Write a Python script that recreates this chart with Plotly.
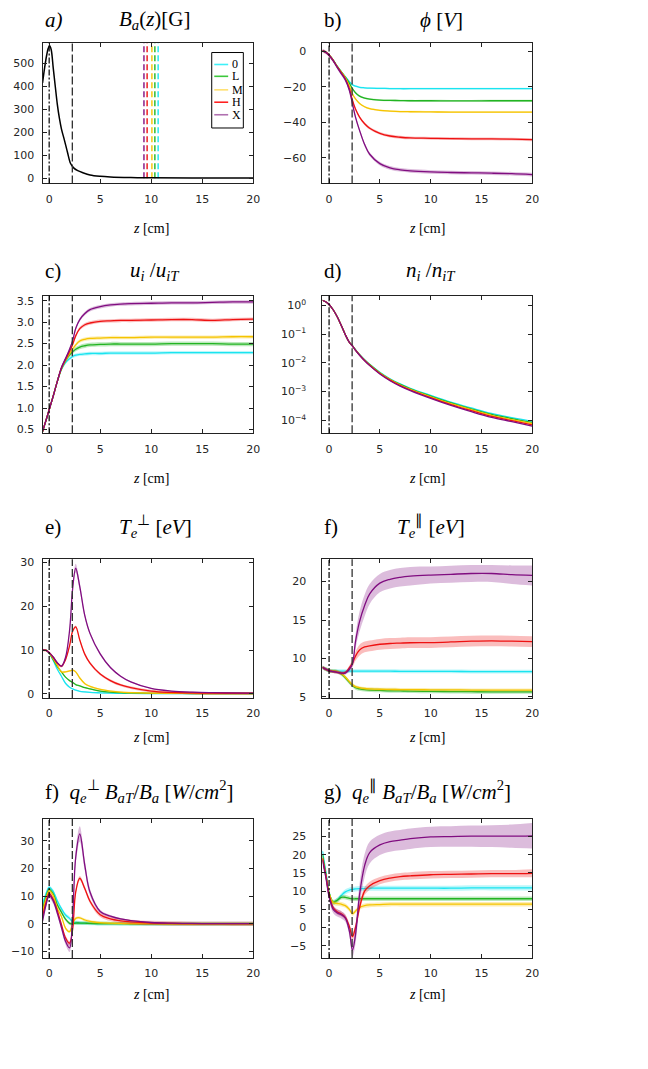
import plotly.graph_objects as go

# ---------------- data ----------------
Z = [-0.65, -0.3, 0.0, 0.4, 0.8, 1.2, 1.6, 2.0, 2.3, 2.6, 3.0, 3.5, 4.0,
     5.0, 6.0, 7.0, 8.0, 10.0, 12.0, 14.0, 16.0, 18.0, 20.0]
SERIES = ["0", "L", "M", "H", "X"]
COLORS = ["#1ae4f0", "#22b422", "#f5c400", "#ee1111", "#800d80"]
BANDS = ["rgba(26,228,240,0.30)", "rgba(34,180,34,0.30)", "rgba(245,196,0,0.30)",
         "rgba(238,17,17,0.28)", "rgba(128,13,128,0.28)"]
LEG_COLORS = ["#3ef0f8", "#3cc83c", "#ffe070", "#ff2020", "#b070b0"]

THROAT_Z = 0.0
EDGE_Z = 2.27

# a) magnetic field (own, finer grid)
Z_B = [-0.65, -0.45, -0.25, -0.1, 0.05, 0.2, 0.4, 0.6, 0.8, 1.0, 1.2, 1.5, 1.8,
       2.1, 2.4, 2.8, 3.3, 4.0, 5.0, 6.0, 8.0, 10.0, 14.0, 20.0]
B_FIELD = [415, 480, 535, 565, 577, 560, 480, 400, 322, 262, 215, 165, 112,
           64, 45, 33, 24, 14, 8, 5, 2.5, 1.4, 0.6, 0.3]
B_MARKS = [10.68, 10.36, 10.07, 9.60, 9.29]

# b) potential
PHI = {
    "0": [0.5, -0.5, -2.0, -4.8, -8.3, -11.3, -14.2, -17.0, -18.8, -19.6, -20.2, -20.5, -20.7,
          -20.8, -20.9, -21.0, -21.0, -21.0, -21.0, -21.0, -21.0, -21.0, -21.0],
    "L": [0.5, -0.5, -2.0, -4.8, -8.4, -11.5, -14.5, -18.0, -21.0, -23.3, -25.2, -26.3, -26.9,
          -27.4, -27.6, -27.7, -27.8, -27.8, -27.9, -27.9, -27.8, -27.8, -27.8],
    "M": [0.5, -0.5, -2.0, -4.8, -8.5, -11.6, -14.8, -19.5, -23.8, -26.8, -29.3, -31.2, -32.3,
          -33.2, -33.6, -33.9, -34.0, -34.1, -34.2, -34.2, -34.2, -34.2, -34.2],
    "H": [0.5, -0.5, -2.1, -5.0, -8.7, -12.0, -15.5, -21.0, -27.5, -32.5, -37.0, -40.8, -43.3,
          -46.2, -47.7, -48.4, -48.8, -49.0, -49.2, -49.3, -49.3, -49.5, -49.8],
    "X": [0.5, -0.6, -2.2, -5.2, -9.0, -12.5, -16.0, -22.0, -29.5, -37.0, -44.5, -52.5, -58.0,
          -63.3, -65.7, -66.8, -67.4, -68.0, -68.3, -68.5, -68.7, -69.0, -69.5],
}
PHI_ERR = {"0": 0.5, "L": 0.5, "M": 0.5, "H": 0.8, "X": 1.0}

# c) ion velocity
UI = {
    "0": [0.45, 0.72, 0.96, 1.28, 1.62, 1.90, 2.06, 2.15, 2.20, 2.23, 2.25, 2.26, 2.27,
          2.27, 2.28, 2.28, 2.28, 2.28, 2.29, 2.29, 2.29, 2.29, 2.29],
    "L": [0.45, 0.72, 0.96, 1.28, 1.62, 1.91, 2.10, 2.24, 2.31, 2.37, 2.42, 2.45, 2.47,
          2.48, 2.49, 2.49, 2.49, 2.49, 2.50, 2.50, 2.50, 2.49, 2.49],
    "M": [0.45, 0.72, 0.96, 1.28, 1.62, 1.92, 2.11, 2.27, 2.37, 2.47, 2.56, 2.60, 2.62,
          2.63, 2.64, 2.64, 2.64, 2.65, 2.65, 2.65, 2.65, 2.66, 2.66],
    "H": [0.45, 0.72, 0.96, 1.28, 1.62, 1.93, 2.13, 2.32, 2.48, 2.68, 2.85, 2.94, 2.98,
          3.02, 3.03, 3.04, 3.04, 3.05, 3.06, 3.06, 3.04, 3.06, 3.07],
    "X": [0.45, 0.72, 0.96, 1.28, 1.62, 1.94, 2.15, 2.37, 2.57, 2.85, 3.06, 3.20, 3.29,
          3.36, 3.40, 3.42, 3.43, 3.44, 3.45, 3.45, 3.46, 3.47, 3.47],
}
UI_ERR = {"0": 0.04, "L": 0.05, "M": 0.04, "H": 0.04, "X": 0.04}

# d) ion density
NI = {
    "0": [1.5, 1.3, 1.07, 0.70, 0.40, 0.20, 0.095, 0.051, 0.0395, 0.0286, 0.0196, 0.0128, 0.0089,
          0.0047, 0.00281, 0.00185, 0.00131, 7.4e-4, 4.3e-4, 2.7e-4, 1.74e-4, 1.25e-4, 9.3e-5],
    "L": [1.5, 1.3, 1.07, 0.70, 0.40, 0.20, 0.095, 0.051, 0.0392, 0.0283, 0.0193, 0.0126, 0.0087,
          0.00455, 0.0027, 0.00178, 0.00126, 7.0e-4, 4.05e-4, 2.52e-4, 1.62e-4, 1.16e-4, 8.5e-5],
    "M": [1.5, 1.3, 1.07, 0.70, 0.40, 0.20, 0.095, 0.051, 0.039, 0.028, 0.019, 0.0123, 0.0085,
          0.0044, 0.0026, 0.0017, 0.0012, 6.6e-4, 3.8e-4, 2.35e-4, 1.5e-4, 1.07e-4, 7.8e-5],
    "H": [1.5, 1.3, 1.07, 0.70, 0.40, 0.20, 0.095, 0.051, 0.0387, 0.0277, 0.0187, 0.0120, 0.0082,
          0.00423, 0.0025, 0.00162, 0.00114, 6.2e-4, 3.55e-4, 2.18e-4, 1.38e-4, 9.8e-5, 7.0e-5],
    "X": [1.5, 1.3, 1.07, 0.70, 0.40, 0.20, 0.095, 0.051, 0.0385, 0.0274, 0.0184, 0.0118, 0.0080,
          0.0041, 0.0024, 0.00155, 0.00108, 5.8e-4, 3.3e-4, 2.0e-4, 1.27e-4, 9.0e-5, 6.3e-5],
}
NI_TICKS = [1e-4, 1e-3, 1e-2, 1e-1, 1]
NI_TICKTEXT = ["10<sup>−4</sup>", "10<sup>−3</sup>", "10<sup>−2</sup>", "10<sup>−1</sup>", "10<sup>0</sup>"]

# e) perpendicular electron temperature
TPERP = {
    "0": [10.0, 9.9, 9.3, 7.6, 5.6, 4.0, 2.4, 1.5, 1.1, 0.8, 0.55, 0.4, 0.3,
          0.2, 0.12, 0.08, 0.06, 0.04, 0.03, 0.03, 0.03, 0.03, 0.03],
    "L": [10.0, 9.9, 9.3, 7.8, 6.2, 5.0, 3.8, 3.0, 2.6, 2.1, 1.8, 1.4, 1.1,
          0.6, 0.35, 0.25, 0.18, 0.10, 0.07, 0.05, 0.05, 0.05, 0.05],
    "M": [10.0, 9.9, 9.4, 8.0, 6.5, 5.0, 5.0, 5.2, 5.4, 5.0, 3.6, 2.3, 1.7,
          1.0, 0.6, 0.35, 0.25, 0.12, 0.08, 0.06, 0.05, 0.05, 0.05],
    "H": [10.0, 9.9, 9.4, 8.3, 7.0, 6.3, 7.8, 11.0, 14.3, 15.3, 12.3, 9.0, 7.0,
          4.5, 3.0, 2.0, 1.4, 0.6, 0.3, 0.18, 0.12, 0.10, 0.08],
    "X": [10.0, 9.9, 9.4, 8.4, 7.1, 6.3, 8.3, 14.5, 24.0, 28.7, 24.5, 17.8, 13.8,
          9.1, 6.0, 4.0, 2.7, 1.2, 0.6, 0.35, 0.25, 0.2, 0.15],
}
TPERP_ERR = {"0": 0.15, "L": 0.15, "M": 0.2, "H": 0.3,
             "X": [0.15, 0.15, 0.15, 0.15, 0.15, 0.2, 0.3, 0.5, 0.8, 1.0, 0.8, 0.5, 0.4,
                   0.3, 0.2, 0.15, 0.15, 0.1, 0.1, 0.1, 0.1, 0.1, 0.1]}

# f) parallel electron temperature
TPAR = {
    "0": [8.85, 8.6, 8.4, 8.35, 8.35, 8.35, 8.35, 8.35, 8.35, 8.35, 8.35, 8.35, 8.35,
          8.35, 8.35, 8.33, 8.33, 8.32, 8.32, 8.3, 8.3, 8.3, 8.3],
    "L": [8.85, 8.6, 8.4, 8.35, 8.3, 8.0, 7.5, 6.9, 6.5, 6.2, 6.05, 5.95, 5.9,
          5.85, 5.8, 5.78, 5.75, 5.72, 5.7, 5.68, 5.66, 5.65, 5.65],
    "M": [8.85, 8.6, 8.4, 8.35, 8.3, 8.05, 7.6, 7.0, 6.6, 6.35, 6.2, 6.1, 6.05,
          6.0, 5.98, 5.96, 5.95, 5.93, 5.92, 5.9, 5.9, 5.9, 5.9],
    "H": [8.85, 8.6, 8.4, 8.3, 8.2, 8.1, 8.2, 8.8, 9.4, 10.3, 11.1, 11.5, 11.65,
          11.85, 11.95, 12.0, 12.05, 12.07, 12.15, 12.25, 12.3, 12.25, 12.2],
    "X": [8.85, 8.6, 8.4, 8.3, 8.2, 8.1, 8.1, 8.6, 9.3, 12.2, 14.8, 16.9, 18.4,
          19.8, 20.3, 20.55, 20.7, 20.85, 20.95, 21.05, 21.05, 20.9, 20.8],
}
TPAR_ERR = {"0": 0.25, "L": 0.25, "M": 0.2,
            "H": [0.2, 0.2, 0.2, 0.2, 0.2, 0.2, 0.2, 0.3, 0.5, 0.6, 0.7, 0.7, 0.7,
                  0.7, 0.7, 0.7, 0.7, 0.7, 0.7, 0.7, 0.7, 0.7, 0.7],
            "X": [0.2, 0.2, 0.2, 0.2, 0.2, 0.2, 0.2, 0.3, 0.4, 0.9, 1.3, 1.4, 1.3,
                  1.2, 1.2, 1.2, 1.2, 1.1, 1.1, 1.1, 1.1, 1.2, 1.3]}

# f) perpendicular heat flux
QPERP = {
    "0": [7.0, 11.0, 13.2, 11.7, 8.3, 5.5, 3.2, 2.0, 0.8, 0.5, 0.35, 0.25, 0.2,
          0.12, 0.08, 0.06, 0.05, 0.04, 0.03, 0.03, 0.03, 0.03, 0.03],
    "L": [5.0, 10.0, 12.5, 10.8, 6.9, 4.2, 1.7, 0.2, 0.0, 0.3, 0.3, 0.25, 0.2,
          0.12, 0.08, 0.06, 0.05, 0.04, 0.03, 0.03, 0.03, 0.03, 0.03],
    "M": [4.0, 9.2, 11.9, 10.2, 5.6, 2.7, -1.5, -2.8, 0.0, 2.0, 2.2, 1.4, 0.9,
          0.45, 0.25, 0.15, 0.1, 0.06, 0.05, 0.04, 0.04, 0.04, 0.04],
    "H": [2.5, 7.8, 10.9, 8.8, 4.7, -0.2, -5.0, -7.0, -2.0, 11.5, 16.5, 12.7, 8.2,
          3.3, 1.8, 1.1, 0.7, 0.3, 0.15, 0.1, 0.08, 0.07, 0.06],
    "X": [1.0, 7.0, 10.3, 8.3, 3.9, -1.2, -6.3, -8.7, 3.0, 24.0, 32.5, 21.0, 11.5,
          4.5, 2.8, 1.8, 1.2, 0.5, 0.25, 0.15, 0.1, 0.08, 0.06],
}
QPERP_ERR = {"0": 0.7, "L": 0.6, "M": 0.5, "H": 0.8,
             "X": [0.8, 0.9, 1.0, 1.0, 1.0, 1.0, 1.2, 1.5, 1.5, 2.5, 2.8, 2.0, 1.2,
                   0.6, 0.4, 0.3, 0.2, 0.2, 0.1, 0.1, 0.1, 0.1, 0.1]}

# g) parallel heat flux
QPAR = {
    "0": [21.0, 15.0, 9.8, 6.8, 7.5, 8.8, 9.8, 10.3, 10.5, 10.6, 10.7, 10.7, 10.8,
          10.8, 10.8, 10.8, 10.8, 10.8, 10.8, 10.9, 10.9, 10.9, 10.9],
    "L": [20.0, 14.5, 9.5, 7.0, 7.5, 8.3, 8.3, 8.0, 7.9, 7.9, 7.9, 7.9, 7.9,
          7.9, 7.9, 7.9, 7.9, 7.9, 7.9, 7.9, 7.9, 7.9, 7.9],
    "M": [19.0, 14.0, 9.5, 6.8, 6.6, 6.4, 6.0, 5.0, 3.8, 4.5, 5.5, 6.0, 6.2,
          6.3, 6.4, 6.4, 6.4, 6.4, 6.4, 6.4, 6.4, 6.4, 6.4],
    "H": [19.0, 14.0, 9.0, 5.5, 4.3, 3.8, 2.8, 0.3, -2.5, 0.0, 5.5, 10.0, 11.5,
          12.9, 13.6, 14.0, 14.2, 14.5, 14.6, 14.7, 14.8, 14.8, 14.9],
    "X": [18.5, 13.5, 8.5, 5.0, 4.0, 3.5, 2.6, -1.0, -6.2, -2.0, 9.0, 17.0, 20.6,
          22.7, 23.6, 24.0, 24.4, 24.9, 25.0, 25.1, 25.1, 25.1, 25.2],
}
QPAR_ERR = {"0": 0.7, "L": 0.6, "M": 0.6,
            "H": [0.7, 0.7, 0.7, 0.7, 0.7, 0.7, 0.7, 0.8, 1.0, 1.2, 1.2, 1.1, 1.1,
                  1.0, 1.0, 1.0, 1.0, 1.0, 1.0, 1.0, 1.0, 1.0, 1.1],
            "X": [1.0, 1.0, 1.0, 1.0, 1.0, 1.0, 1.0, 1.2, 1.8, 2.5, 3.0, 3.2, 3.0,
                  2.8, 2.8, 2.8, 2.8, 2.8, 2.8, 2.9, 3.0, 3.2, 3.5]}

X_TICKS = [0, 5, 10, 15, 20]
X_RANGE = [-0.65, 20]

# ---------------- layout helpers ----------------
W, H = 648, 1069
COLS = [(43, 256), (326, 538)]
ROWS = [(40, 182), (295, 434), (561, 701), (823, 963)]
SERIF = "Liberation Serif"
SANS = "DejaVu Sans"
AX = "#222222"
SMOOTH = 1.0


def fx(p):
    return p / W


def fy(p):
    return 1 - p / H


fig = go.Figure()


def ax_id(i):
    return "" if i == 0 else str(i + 1)


def add_line(i, x, y, color, width=1.3, dash=None, shape="spline"):
    fig.add_trace(go.Scatter(
        x=x, y=y, mode="lines", xaxis="x" + ax_id(i), yaxis="y" + ax_id(i),
        line=dict(color=color, width=width, dash=dash, shape=shape, smoothing=SMOOTH),
        showlegend=False, hoverinfo="skip"))


def add_band(i, x, y, err, fillcolor):
    e = err if isinstance(err, list) else [err] * len(y)
    up = [v + d for v, d in zip(y, e)]
    lo = [v - d for v, d in zip(y, e)]
    fig.add_trace(go.Scatter(
        x=x, y=up, mode="lines", xaxis="x" + ax_id(i), yaxis="y" + ax_id(i),
        line=dict(width=0, shape="spline", smoothing=SMOOTH, color=fillcolor),
        showlegend=False, hoverinfo="skip"))
    fig.add_trace(go.Scatter(
        x=x, y=lo, mode="lines", xaxis="x" + ax_id(i), yaxis="y" + ax_id(i),
        line=dict(width=0, shape="spline", smoothing=SMOOTH, color=fillcolor),
        fill="tonexty", fillcolor=fillcolor, showlegend=False, hoverinfo="skip"))


def add_family(i, data, errs=None):
    for k, s in enumerate(SERIES):
        if errs is not None:
            add_band(i, Z, data[s], errs[s], BANDS[k])
        add_line(i, Z, data[s], COLORS[k])


# panel a
Y_A_TOP = 591
for k, s in enumerate(SERIES):
    add_line(0, [B_MARKS[k], B_MARKS[k]], [0, Y_A_TOP], COLORS[k], width=1.4,
             dash="6px,3px", shape="linear")
add_line(0, Z_B, B_FIELD, "#000000", width=1.5)

add_family(1, PHI, PHI_ERR)
add_family(2, UI, UI_ERR)
add_family(3, NI)
add_family(4, TPERP, TPERP_ERR)
add_family(5, TPAR, TPAR_ERR)
add_family(6, QPERP, QPERP_ERR)
add_family(7, QPAR, QPAR_ERR)

panels = [
    dict(r=0, c=0, yr=[-23, Y_A_TOP], tv=[0, 100, 200, 300, 400, 500]),
    dict(r=0, c=1, yr=[-74.5, 5], tv=[-60, -40, -20, 0]),
    dict(r=1, c=0, yr=[0.41, 3.62], tv=[0.5, 1.0, 1.5, 2.0, 2.5, 3.0, 3.5], fmt=".1f"),
    dict(r=1, c=1, yr=[-4.45, 0.34], tv=NI_TICKS, tt=NI_TICKTEXT, log=True),
    dict(r=2, c=0, yr=[-1, 30.75], tv=[0, 10, 20, 30]),
    dict(r=2, c=1, yr=[4.85, 22.9], tv=[5, 10, 15, 20]),
    dict(r=3, c=0, yr=[-12.3, 37.9], tv=[-10, 0, 10, 20, 30]),
    dict(r=3, c=1, yr=[-8.35, 29.8], tv=[-5, 0, 5, 10, 15, 20, 25]),
]

layout = {}
shapes = []
for i, p in enumerate(panels):
    x0, x1 = COLS[p["c"]]
    y0, y1 = ROWS[p["r"]]
    sid = ax_id(i)
    common = dict(showline=True, linecolor=AX, linewidth=1, mirror="allticks",
                  ticks="inside", ticklen=4, tickcolor=AX, tickwidth=1,
                  showgrid=False, zeroline=False,
                  tickfont=dict(family=SANS, size=11, color="#262626"))
    layout["xaxis" + sid] = dict(domain=[fx(x0), fx(x1)], range=X_RANGE, tickvals=X_TICKS,
                                 anchor="y" + sid, ticklabelstandoff=5, **common)
    ya = dict(domain=[fy(y1), fy(y0)], anchor="x" + sid, tickvals=p["tv"],
              ticklabelstandoff=5 if p["c"] == 0 else 13, **common)
    if p.get("log"):
        ya.update(type="log", range=p["yr"], ticktext=p["tt"])
    else:
        ya.update(range=p["yr"])
        if p.get("fmt"):
            ya.update(tickformat=p["fmt"])
    layout["yaxis" + sid] = ya
    # reference lines: throat (dash-dot) and edge (dashed)
    shapes.append(dict(type="line", xref="x" + sid, yref="y" + sid + " domain",
                       x0=THROAT_Z, x1=THROAT_Z, y0=0, y1=1,
                       line=dict(color="#000000", width=1.2, dash="6px,2px,2px,2px")))
    shapes.append(dict(type="line", xref="x" + sid, yref="y" + sid + " domain",
                       x0=EDGE_Z, x1=EDGE_Z, y0=0, y1=1,
                       line=dict(color="#333333", width=1.3, dash="8px,3px")))

# legend (panel a)
shapes.append(dict(type="rect", xref="x domain", yref="y domain",
                   x0=0.803, x1=0.953, y0=0.394, y1=0.930,
                   line=dict(color="#000000", width=1), fillcolor="white"))
annotations = []
LEG_Y = [0.845, 0.761, 0.665, 0.577, 0.488]
for k, s in enumerate(SERIES):
    shapes.append(dict(type="line", xref="x domain", yref="y domain",
                       x0=0.815, x1=0.881, y0=LEG_Y[k], y1=LEG_Y[k],
                       line=dict(color=LEG_COLORS[k], width=1.6)))
    annotations.append(dict(xref="x domain", yref="y domain", x=0.888, y=LEG_Y[k],
                            xanchor="left", yanchor="middle", text=s, showarrow=False,
                            font=dict(family=SERIF, size=12, color="#000")))


def txt(x, y, text, size=21, anchor="center"):
    annotations.append(dict(xref="paper", yref="paper", x=fx(x), y=fy(y), text=text,
                            xanchor=anchor, yanchor="middle", showarrow=False,
                            font=dict(family=SERIF, size=size, color="#000")))


# panel letters + titles
txt(43, 17, "<i>a)</i>", anchor="left")
txt(157, 17, "<i>B<sub>a</sub></i>(<i>z</i>)[G]")
txt(326, 17, "b)", anchor="left")
txt(446, 17, "<i>ϕ</i> [<i>V</i>]")
txt(43, 270, "c)", anchor="left")
txt(157, 270, "<i>u<sub>i</sub></i> /<i>u<sub>iT</sub></i>")
txt(326, 270, "d)", anchor="left")
txt(436, 270, "<i>n<sub>i</sub></i> /<i>n<sub>iT</sub></i>")
txt(43, 528, "e)", anchor="left")
txt(157, 528, "<i>T<sub>e</sub></i><sup>⊥</sup> [<i>eV</i>]")
txt(326, 528, "f)", anchor="left")
txt(436, 528, "<i>T<sub>e</sub></i><sup>∥</sup> [<i>eV</i>]")
txt(43, 795, "f)  <i>q<sub>e</sub></i><sup>⊥</sup> <i>B<sub>aT</sub></i>/<i>B<sub>a</sub></i> [<i>W</i>/<i>cm</i><sup>2</sup>]",
    anchor="left")
txt(326, 795, "g)  <i>q<sub>e</sub></i><sup>∥</sup> <i>B<sub>aT</sub></i>/<i>B<sub>a</sub></i> [<i>W</i>/<i>cm</i><sup>2</sup>]",
    anchor="left")

# x-axis labels
for yy in [227, 480, 741, 1000]:
    txt(153, yy, "<i>z</i> [cm]", size=14)
    txt(432, yy, "<i>z</i> [cm]", size=14)

fig.update_layout(width=W, height=H, margin=dict(l=0, r=0, t=0, b=0),
                  paper_bgcolor="white", plot_bgcolor="white",
                  showlegend=False, shapes=shapes, annotations=annotations, **layout)

fig.write_html("out.html")
